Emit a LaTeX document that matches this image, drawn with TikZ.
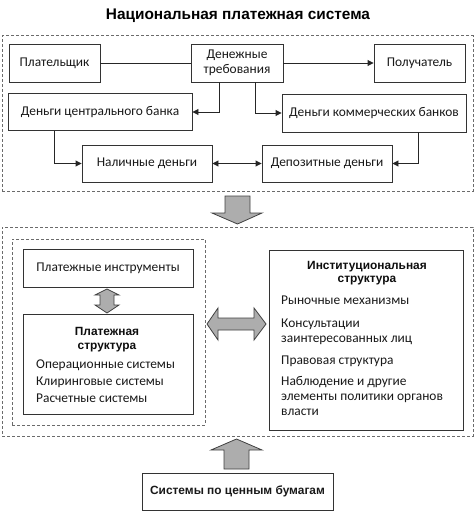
\documentclass[tikz,border=0pt]{standalone}
\usepackage{fontspec}
\setmainfont{Carlito}
\newfontfamily\hfont{Liberation Sans}
\usetikzlibrary{arrows.meta}
\begin{document}
\begin{tikzpicture}[x=1pt,y=-1pt,
  box/.style={draw=black!80, line width=0.9pt, fill=white, inner sep=0pt, align=center, text=black!90, font=\fontsize{13.4}{15}\selectfont},
  dbox/.style={draw=black!58, line width=1pt, dash pattern=on 3pt off 2pt, inner sep=0pt},
  conn/.style={line width=0.9pt, draw=black!85},
  tip/.style={-{Triangle[length=6pt,width=6pt]}},
  dtip/.style={{Triangle[length=6pt,width=6pt]}-{Triangle[length=6pt,width=6pt]}},
  blk/.style={fill=black!32, draw=black!75, line width=0.8pt, line join=miter},
  txt/.style={inner sep=0pt, text=black!90, font=\fontsize{13.4}{15}\selectfont, anchor=base west},
  btxt/.style={inner sep=0pt, text=black!95, font=\hfont\bfseries\fontsize{11.9}{13}\selectfont, anchor=base},
]
\useasboundingbox (0,0) rectangle (474,511);

\node[inner sep=0pt, anchor=base, font=\hfont\bfseries\fontsize{15.4}{17}\selectfont] (title) at (238,20) {Национальная платежная система};

% top region
\node[dbox, minimum width=471, minimum height=155] (topframe) at (237.5,113.5) {};
\node[box, minimum width=91, minimum height=38] (pay) at (54.5,63) {Плательщик};
\node[box, minimum width=92, minimum height=38] (req) at (237,63) {Денежные\\требования};
\node[box, minimum width=91, minimum height=38] (rec) at (419.5,63) {Получатель};
\node[box, minimum width=184, minimum height=37] (cb) at (100,112) {Деньги центрального банка};
\node[box, minimum width=184, minimum height=38] (kb) at (374,113) {Деньги коммерческих банков};
\node[box, minimum width=130, minimum height=37] (cash) at (147,163.5) {Наличные деньги};
\node[box, minimum width=130, minimum height=37] (dep) at (327,163.5) {Депозитные деньги};

\draw[conn] (pay) -- (req);
\draw[conn,tip] (req) -- (rec);
\draw[conn,tip] ([xshift=-18]req.south) |- (cb.east);
\draw[conn,tip] ([xshift=18]req.south) |- (kb.west);
\draw[conn,tip] ([xshift=-46]cb.south) |- (cash.west);
\draw[conn,tip] ([xshift=44]kb.south) |- (dep.east);
\draw[conn,dtip] (cash) -- (dep);

% down block arrow
\draw[blk] (225,196) -- (250,196) -- (250,213) -- (262,213) -- (237.5,224) -- (212,213) -- (225,213) -- cycle;

% bottom region
\node[dbox, minimum width=471, minimum height=209] (botframe) at (237.5,331.5) {};
\node[dbox, minimum width=193, minimum height=186] (leftframe) at (108.5,332) {};
\node[box, minimum width=170, minimum height=38] (instr) at (108,268) {Платежные инструменты};
\node[box, minimum width=170, minimum height=100] (pstr) at (108,364) {};
\node[btxt] (pstr1) at (107,335) {Платежная};
\node[btxt] (pstr2) at (107,349) {структура};
\node[txt] (pstr3) at (36,368) {Операционные системы};
\node[txt] (pstr4) at (36,385) {Клиринговые системы};
\node[txt] (pstr5) at (36,402) {Расчетные системы};

\node[box, minimum width=194, minimum height=180] (inst) at (366,340) {};
\node[btxt] (inst1) at (367,269) {Институциональная};
\node[btxt] (inst2) at (367,282) {структура};
\node[txt] (inst3) at (281,304) {Рыночные механизмы};
\node[txt] (inst4) at (281,327) {Консультации};
\node[txt] (inst5) at (281,342) {заинтересованных лиц};
\node[txt] (inst6) at (281,364) {Правовая структура};
\node[txt] (inst7) at (281,385) {Наблюдение и другие};
\node[txt] (inst8) at (281,400) {элементы политики органов};
\node[txt] (inst9) at (281,415) {власти};

% vertical double block arrow
\draw[blk] (107,289) -- (119,295) -- (114,295) -- (114,305) -- (119,305) -- (107,313) -- (95,305) -- (100,305) -- (100,295) -- (95,295) -- cycle;
% horizontal double block arrow
\draw[blk] (207,324) -- (218,308) -- (218,318) -- (254,318) -- (254,308) -- (266,324) -- (254,340) -- (254,330) -- (218,330) -- (218,340) -- cycle;
% up block arrow
\draw[blk] (236.5,439) -- (262,450) -- (249,450) -- (249,469) -- (224,469) -- (224,450) -- (211,450) -- cycle;

\node[box, minimum width=191, minimum height=37, font=\hfont\bfseries\fontsize{11.9}{13}\selectfont] (sec) at (237.5,491.5) {Системы по ценным бумагам};
\end{tikzpicture}
\end{document}
